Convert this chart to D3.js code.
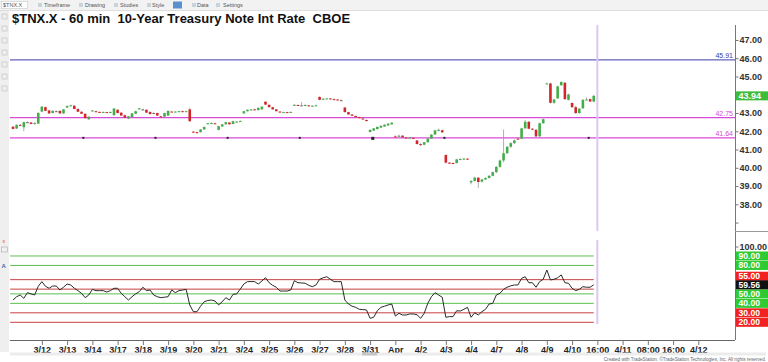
<!DOCTYPE html>
<html>
<head>
<meta charset="utf-8">
<script src="https://cdn.jsdelivr.net/npm/d3@7"></script>
<style>
  body { margin: 0; background: #fff; }
  svg { display: block; font-family: "Liberation Sans", Arial, sans-serif; }
  .tick text { font-weight: bold; }
</style>
</head>
<body>
<script>
var W = 768, H = 362;

var title = "$TNX.X - 60 min  10-Year Treasury Note Int Rate  CBOE";
var toolbarItems = ["$TNX.X", "Timeframe", "Drawing", "Studies", "Style", "Data", "Settings"];
var toolbarX = [3, 44, 85, 120, 152, 197, 223];

// hourly bars, [open, high, low, close]
var candles = [
  [42.25,42.28,42.10,42.13],[42.15,42.38,42.12,42.35],[42.35,42.40,42.28,42.30],[42.22,42.52,42.00,42.50],
  [42.50,42.55,42.45,42.50],[42.48,42.50,42.38,42.40],[42.40,42.50,42.36,42.45],[42.42,43.05,42.40,43.00],
  [43.08,43.38,43.05,43.35],[43.32,43.36,43.10,43.12],[43.14,43.18,42.95,42.98],[43.00,43.15,42.98,43.12],
  [43.10,43.14,43.06,43.10],[43.12,43.14,42.96,42.98],[42.98,43.22,42.95,43.20],
  [43.30,43.42,43.28,43.38],[43.40,43.46,43.38,43.42],[43.40,43.42,43.20,43.22],[43.22,43.26,43.05,43.07],
  [43.07,43.10,42.94,42.96],[42.96,42.98,42.70,42.72],[42.66,42.82,42.62,42.80],
  [43.12,43.16,43.08,43.14],[43.10,43.12,43.04,43.07],[43.06,43.08,43.02,43.04],[43.04,43.08,43.02,43.06],
  [43.05,43.07,43.00,43.02],[43.03,43.08,43.01,43.06],[42.88,43.28,42.85,43.25],
  [43.18,43.20,42.98,43.00],[43.02,43.04,42.84,42.86],[42.88,42.92,42.72,42.74],[42.70,42.84,42.66,42.82],
  [42.78,43.00,42.76,42.98],[42.96,43.12,42.94,43.10],[43.20,43.28,43.20,43.26],
  [43.20,43.24,43.16,43.20],[43.18,43.20,43.00,43.02],[43.06,43.08,42.92,42.94],[43.00,43.04,42.98,43.00],
  [43.00,43.02,42.84,42.86],[42.82,42.84,42.78,42.80],[42.80,43.02,42.78,43.00],
  [42.86,43.14,42.84,43.12],[43.08,43.10,43.05,43.07],[43.07,43.10,43.04,43.08],[43.08,43.11,43.05,43.10],
  [43.10,43.12,43.06,43.08],[43.08,43.12,43.06,43.10],[43.20,43.28,42.52,42.55],
  [41.98,42.00,41.90,41.95],[41.95,41.98,41.88,41.92],[41.95,42.12,41.93,42.10],[42.10,42.26,42.08,42.24],
  [42.40,42.46,42.38,42.44],[42.44,42.48,42.40,42.45],[42.44,42.46,42.38,42.40],
  [42.08,42.30,42.05,42.28],[42.26,42.40,42.24,42.38],[42.38,42.52,42.36,42.50],[42.48,42.50,42.36,42.38],
  [42.40,42.58,42.38,42.55],[42.52,42.56,42.50,42.53],[42.55,42.60,42.52,42.56],
  [42.98,43.12,42.96,43.10],[43.10,43.20,43.08,43.18],[43.18,43.22,43.14,43.20],[43.20,43.24,43.16,43.18],
  [43.16,43.30,43.14,43.28],[43.20,43.36,43.18,43.35],[43.62,43.65,43.44,43.46],
  [43.45,43.47,43.30,43.32],[43.32,43.34,43.18,43.20],[43.20,43.22,43.08,43.10],[43.08,43.10,43.02,43.04],
  [43.04,43.07,43.02,43.05],[43.05,43.07,43.02,43.04],[43.04,43.08,43.02,43.06],
  [43.40,43.50,43.38,43.45],[43.44,43.46,43.40,43.42],[43.42,43.60,43.40,43.42],[43.42,43.48,43.40,43.44],
  [43.42,43.44,43.36,43.38],[43.38,43.42,43.36,43.40],[43.40,43.46,43.38,43.42],
  [43.88,43.92,43.70,43.72],[43.74,43.82,43.72,43.78],[43.78,43.82,43.76,43.80],[43.80,43.82,43.74,43.76],
  [43.76,43.80,43.72,43.74],[43.74,43.76,43.68,43.70],[43.70,43.74,43.66,43.70],
  [43.30,43.34,43.03,43.05],[43.05,43.07,42.90,42.92],[42.92,42.94,42.83,42.85],[42.84,42.86,42.76,42.78],
  [42.78,42.80,42.70,42.72],[42.70,42.72,42.63,42.65],[42.62,42.64,42.54,42.56],
  [41.96,42.10,41.94,42.08],[42.04,42.18,42.02,42.16],[42.12,42.26,42.10,42.24],[42.20,42.32,42.18,42.30],
  [42.26,42.38,42.24,42.36],[42.32,42.44,42.30,42.42],[42.38,42.50,42.36,42.47],
  [41.72,41.78,41.66,41.70],[41.70,41.82,41.68,41.76],[41.76,41.80,41.64,41.66],[41.66,41.70,41.62,41.64],
  [41.64,41.68,41.60,41.66],[41.64,41.66,41.58,41.60],[41.50,41.52,41.28,41.30],
  [41.30,41.36,41.20,41.24],[41.26,41.42,41.24,41.40],[41.40,41.62,41.38,41.60],[41.60,41.84,41.58,41.82],
  [41.82,42.08,41.80,42.05],[42.05,42.15,42.00,42.08],[42.06,42.08,41.92,41.94],
  [40.70,40.74,40.24,40.28],[40.28,40.32,40.22,40.26],[40.26,40.30,40.20,40.24],[40.26,40.50,40.24,40.46],
  [40.46,40.52,40.42,40.48],[40.48,40.54,40.44,40.50],[40.50,40.52,40.44,40.46],
  [39.20,39.32,39.10,39.28],[39.28,39.50,39.24,39.46],[39.46,39.48,38.90,39.22],[39.24,39.40,39.20,39.36],
  [39.36,39.48,39.34,39.44],[39.44,39.60,39.42,39.56],[39.56,39.80,39.54,39.76],
  [39.76,40.10,39.70,40.05],[40.05,40.45,40.00,40.40],[40.40,42.10,40.30,40.80],[40.80,41.20,40.75,41.15],
  [41.15,41.40,41.10,41.35],[41.35,41.55,41.30,41.50],[41.60,41.66,41.52,41.55],
  [41.60,42.20,41.58,42.16],[42.16,42.62,42.14,42.52],[42.52,42.56,42.10,42.14],[42.14,42.18,42.06,42.10],
  [42.08,42.12,41.68,41.72],[41.72,42.48,41.70,42.44],[42.44,42.70,42.42,42.66],
  [44.60,44.66,44.58,44.62],[44.62,44.66,43.52,43.56],[43.56,43.78,43.50,43.74],[43.80,44.50,43.78,44.46],
  [44.52,44.74,44.50,44.70],[44.66,44.70,43.72,43.76],[43.72,44.06,43.68,44.02],
  [43.55,43.58,43.28,43.32],[43.32,43.40,42.95,43.00],[43.00,43.28,42.96,43.24],[43.26,43.76,43.22,43.72],
  [43.72,43.86,43.70,43.74],[43.76,43.80,43.60,43.63],[43.63,44.00,43.60,43.94]
];

var rsi = [
  43.5,47,48.8,45.3,51.3,50,48.8,58,
  62.9,58,55.9,58.3,58.3,54.1,57,
  60.4,59.4,56,53.4,50.6,46,48.8,
  54.8,53.4,53.4,53.4,52,53.4,55.9,
  55.9,50.6,47,43.5,47,50,52.3,
  57,53.4,54.1,48.8,47,46,46.5,
  47,54.1,51.3,53.4,54,54.8,38.3,
  31.2,31.2,37,41.7,43,43.5,42.5,
  38.3,41.7,46,43.5,49.5,49.9,55,
  60.4,62.9,63,62.9,60.4,63.6,67.1,
  61.8,59,57,53,53,53,54.1,
  63.9,61.8,61.5,61.2,59,57.6,59.4,
  65.4,67,68.1,65.4,62.9,62.9,62.9,
  43.5,39.3,37,35.8,33.7,33.4,33,
  24.2,25.3,32.2,35.8,37,38.3,39.3,
  26.6,29.5,27.7,27.7,28.8,28.8,28,
  24.2,29.5,40,47,51.3,48.8,46.4,
  25.3,26,26,32.2,31.9,33.7,35.8,
  25.3,30.1,27.7,31.2,33.7,39.3,40,
  48.8,50.6,54.8,57,58.5,59.4,59.4,
  66.4,68.1,61.8,61.8,57,62.9,65.4,
  75.2,64.7,65.4,67,70,61.8,61.2,
  55.9,53.4,54.8,57.6,57,57,59.56
];

var dayIdx = [8,15,22,29,36,43,50,57,64,71,78,85,92,99,106,113,120,127,134,141,148,155,162,169,176,183,190];
var dayLabels = ["3/12","3/13","3/14","3/17","3/18","3/19","3/20","3/21","3/24","3/25","3/26","3/27","3/28","3/31",
  "Apr","4/2","4/3","4/4","4/7","4/8","4/9","4/10","16:00","4/11","08:00","16:00","4/12"];

var priceTicks = [37,38,39,40,41,42,43,44,45,46,47];
var lineLevels = [45.91, 42.75, 41.64];
var lineColors = ["#3c3ca8", "#d94ad9", "#d94ad9"];
var markIdx = [19.5, 39.5, 59.5, 79.5, 99.6, 119.6, 159.6];
var lastPrice = 43.94;
var lastIdx = 162;

var rsiLevels = [90, 80, 65, 55, 50, 40, 30, 20];
var rsiLevelUp = [true, true, false, false, true, true, false, false];
// level tags shown on the axis (the 65 tag sits behind the 55 one)
var rsiTags = [90, 80, 55, 50, 40, 30, 20];
var rsiTagUp = [true, true, false, true, true, false, false];
var lastRsi = 59.56;

var svg = d3.select("body").append("svg").attr("width", W).attr("height", H);
svg.append("rect").attr("width", W).attr("height", H).attr("fill", "#fff");

var x = d3.scaleLinear().domain([-1, 200]).range([9.4, 734.4]);
var y = d3.scaleLinear().domain([38, 47]).range([204.3, 40]);
var yr = d3.scaleLinear().domain([20, 100]).range([322.3, 246.5]);

var up = "#43ad4a", dn = "#d3262b";

// toolbar and side strip
svg.append("rect").attr("x", 0).attr("y", 0).attr("width", W).attr("height", 10).attr("fill", "#f2f2f2");
svg.append("line").attr("x1", 0).attr("x2", W).attr("y1", 10.5).attr("y2", 10.5).attr("stroke", "#dedede");
svg.append("rect").attr("x", 1.5).attr("y", 1.5).attr("width", 26).attr("height", 7).attr("fill", "#fff").attr("stroke", "#c8c8c8").attr("stroke-width", 0.6);
svg.selectAll("text.tb").data(toolbarItems).enter().append("text")
  .attr("x", function (d, i) { return toolbarX[i]; })
  .attr("y", 7.2)
  .attr("font-size", 5.5)
  .attr("fill", "#555")
  .text(function (d) { return d; });
[38, 79, 114, 147, 192, 216].forEach(function (px) {
  svg.append("rect").attr("x", px).attr("y", 3).attr("width", 4).attr("height", 4).attr("fill", "#c9d3dc");
});
svg.append("rect").attr("x", 173).attr("y", 1.5).attr("width", 9).attr("height", 7).attr("fill", "#5a8fd0");
svg.append("rect").attr("x", 0).attr("y", 11).attr("width", 9).attr("height", 341).attr("fill", "#efefef");
[14, 26, 38, 50, 62, 74, 86].forEach(function (py) {
  svg.append("rect").attr("x", 2).attr("y", py).attr("width", 5).attr("height", 5).attr("fill", "none").attr("stroke", "#c4c4c4").attr("stroke-width", 0.7);
});
svg.append("text").attr("x", 2.5).attr("y", 243).attr("font-size", 5).attr("fill", "#d33").text("x");
svg.append("rect").attr("x", 1.5).attr("y", 247).attr("width", 6).attr("height", 5).attr("fill", "none").attr("stroke", "#aaa").attr("stroke-width", 0.6);
svg.append("text").attr("x", 1.5).attr("y", 268).attr("font-size", 6).attr("font-weight", "bold").attr("fill", "#3b6bb5").text("A");

// title
svg.append("text").attr("x", 12).attr("y", 23)
  .attr("font-size", 13).attr("font-weight", "bold").attr("fill", "#111")
  .style("white-space", "pre")
  .text(title);

// horizontal levels on price panel
lineLevels.forEach(function (v, i) {
  svg.append("line").attr("x1", 10).attr("x2", 735).attr("y1", y(v)).attr("y2", y(v))
    .attr("stroke", lineColors[i]).attr("stroke-width", i == 0 ? 1 : 1.4);
  svg.append("text").attr("x", 733).attr("y", y(v) - 1.8).attr("text-anchor", "end")
    .attr("font-size", 7).attr("fill", lineColors[i]).text(v.toFixed(2));
});
svg.selectAll("rect.mark").data(markIdx).enter().append("rect")
  .attr("x", function (d) { return x(d) - 1; })
  .attr("y", y(41.64) - 1)
  .attr("width", function (d, i) { return i == 4 ? 3 : 2; })
  .attr("height", function (d, i) { return i == 4 ? 3 : 2; })
  .attr("fill", "#222");

// vertical "now" line
svg.append("line").attr("x1", x(lastIdx)).attr("x2", x(lastIdx)).attr("y1", 25).attr("y2", 231)
  .attr("stroke", "#dcc8ee").attr("stroke-width", 2);
svg.append("line").attr("x1", x(lastIdx)).attr("x2", x(lastIdx)).attr("y1", 240).attr("y2", 324)
  .attr("stroke", "#dcc8ee").attr("stroke-width", 2);

// candles
var bw = 2.6;
var cg = svg.append("g");
cg.selectAll("line").data(candles).enter().append("line")
  .attr("x1", function (d, i) { return x(i); })
  .attr("x2", function (d, i) { return x(i); })
  .attr("y1", function (d) { return y(d[1]); })
  .attr("y2", function (d) { return y(d[2]); })
  .attr("stroke", "#9c9c9c").attr("stroke-width", 0.8);
cg.selectAll("rect").data(candles).enter().append("rect")
  .attr("x", function (d, i) { return x(i) - bw / 2; })
  .attr("y", function (d) { return y(Math.max(d[0], d[3])); })
  .attr("width", bw)
  .attr("height", function (d) { return Math.max(1, Math.abs(y(d[0]) - y(d[3]))); })
  .attr("fill", function (d) { return d[3] > d[0] ? up : d[3] < d[0] ? dn : "#666"; });

// price axis
svg.append("line").attr("x1", 735.5).attr("x2", 735.5).attr("y1", 25).attr("y2", 340).attr("stroke", "#777");
svg.append("line").attr("x1", 735).attr("x2", W).attr("y1", 231.5).attr("y2", 231.5).attr("stroke", "#999");
var pAxis = svg.append("g").attr("transform", "translate(735.5,0)")
  .call(d3.axisRight(y).tickValues(priceTicks).tickSize(3).tickPadding(1)
    .tickFormat(function (d) { return d >= 38 ? d.toFixed(2) : ""; }));
pAxis.select(".domain").remove();
pAxis.selectAll("text").attr("font-size", 9).attr("fill", "#333");
pAxis.selectAll("line").attr("stroke", "#777");

svg.append("rect").attr("x", 736).attr("y", y(lastPrice) - 4.5).attr("width", 32).attr("height", 9).attr("fill", "#3dbb3d");
svg.append("text").attr("x", 738.5).attr("y", y(lastPrice) + 3.2).attr("font-size", 9).attr("font-weight", "bold")
  .attr("fill", "#fff").text(lastPrice.toFixed(2));

// indicator panel
rsiLevels.forEach(function (v, i) {
  svg.append("line").attr("x1", x(-0.8)).attr("x2", x(161)).attr("y1", yr(v)).attr("y2", yr(v))
    .attr("stroke", rsiLevelUp[i] ? "#5bbf4f" : "#c94040").attr("stroke-width", 1);
});
svg.append("path").datum(rsi)
  .attr("fill", "none").attr("stroke", "#2a2a2a").attr("stroke-width", 1)
  .attr("d", d3.line().x(function (d, i) { return x(i); }).y(function (d) { return yr(d); }));

var rAxis = svg.append("g").attr("transform", "translate(735.5,0)")
  .call(d3.axisRight(yr).tickValues([100]).tickSize(3).tickPadding(1).tickFormat(d3.format(".2f")));
rAxis.select(".domain").remove();
rAxis.selectAll("text").attr("font-size", 9).attr("fill", "#333");
rAxis.selectAll("line").attr("stroke", "#777");

// tags: the 55 tag is pushed up above the last-value tag, as in the platform
rsiTags.forEach(function (v, i) {
  var cy = v == 55 ? yr(lastRsi) - 8.6 : yr(v);
  svg.append("rect").attr("x", 736).attr("y", cy - 4.5).attr("width", 32).attr("height", 9)
    .attr("fill", rsiTagUp[i] ? "#2fca2f" : "#f0221f");
  svg.append("text").attr("x", 738.5).attr("y", cy + 3).attr("font-size", 8.6).attr("font-weight", "bold")
    .attr("fill", "#fff").text(v.toFixed(2));
});
svg.append("rect").attr("x", 736).attr("y", yr(lastRsi) - 4.5).attr("width", 32).attr("height", 9).attr("fill", "#111");
svg.append("text").attr("x", 738.5).attr("y", yr(lastRsi) + 3).attr("font-size", 8.6).attr("font-weight", "bold")
  .attr("fill", "#fff").text(lastRsi.toFixed(2));

// time axis
var tAxis = svg.append("g").attr("transform", "translate(0,340)")
  .call(d3.axisBottom(x).tickValues(dayIdx).tickSize(5).tickSizeOuter(0).tickPadding(2)
    .tickFormat(function (d, i) { return dayLabels[i]; }));
tAxis.select(".domain").attr("stroke", "#666");
tAxis.selectAll("line").attr("stroke", "#777");
tAxis.selectAll("text").attr("font-size", 9).attr("fill", "#222");

// scrollbar + footer
svg.append("rect").attr("x", 10).attr("y", 352.5).attr("width", 756).attr("height", 3).attr("fill", "#ececec");
svg.append("rect").attr("x", 362).attr("y", 352.5).attr("width", 15).attr("height", 3).attr("fill", "#c6c6c6");
svg.append("text").attr("x", 766).attr("y", 360.5).attr("text-anchor", "end").attr("font-size", 4.6)
  .attr("fill", "#666").text("Created with TradeStation. \u00a9TradeStation Technologies, Inc. All rights reserved.");
</script>
</body>
</html>
